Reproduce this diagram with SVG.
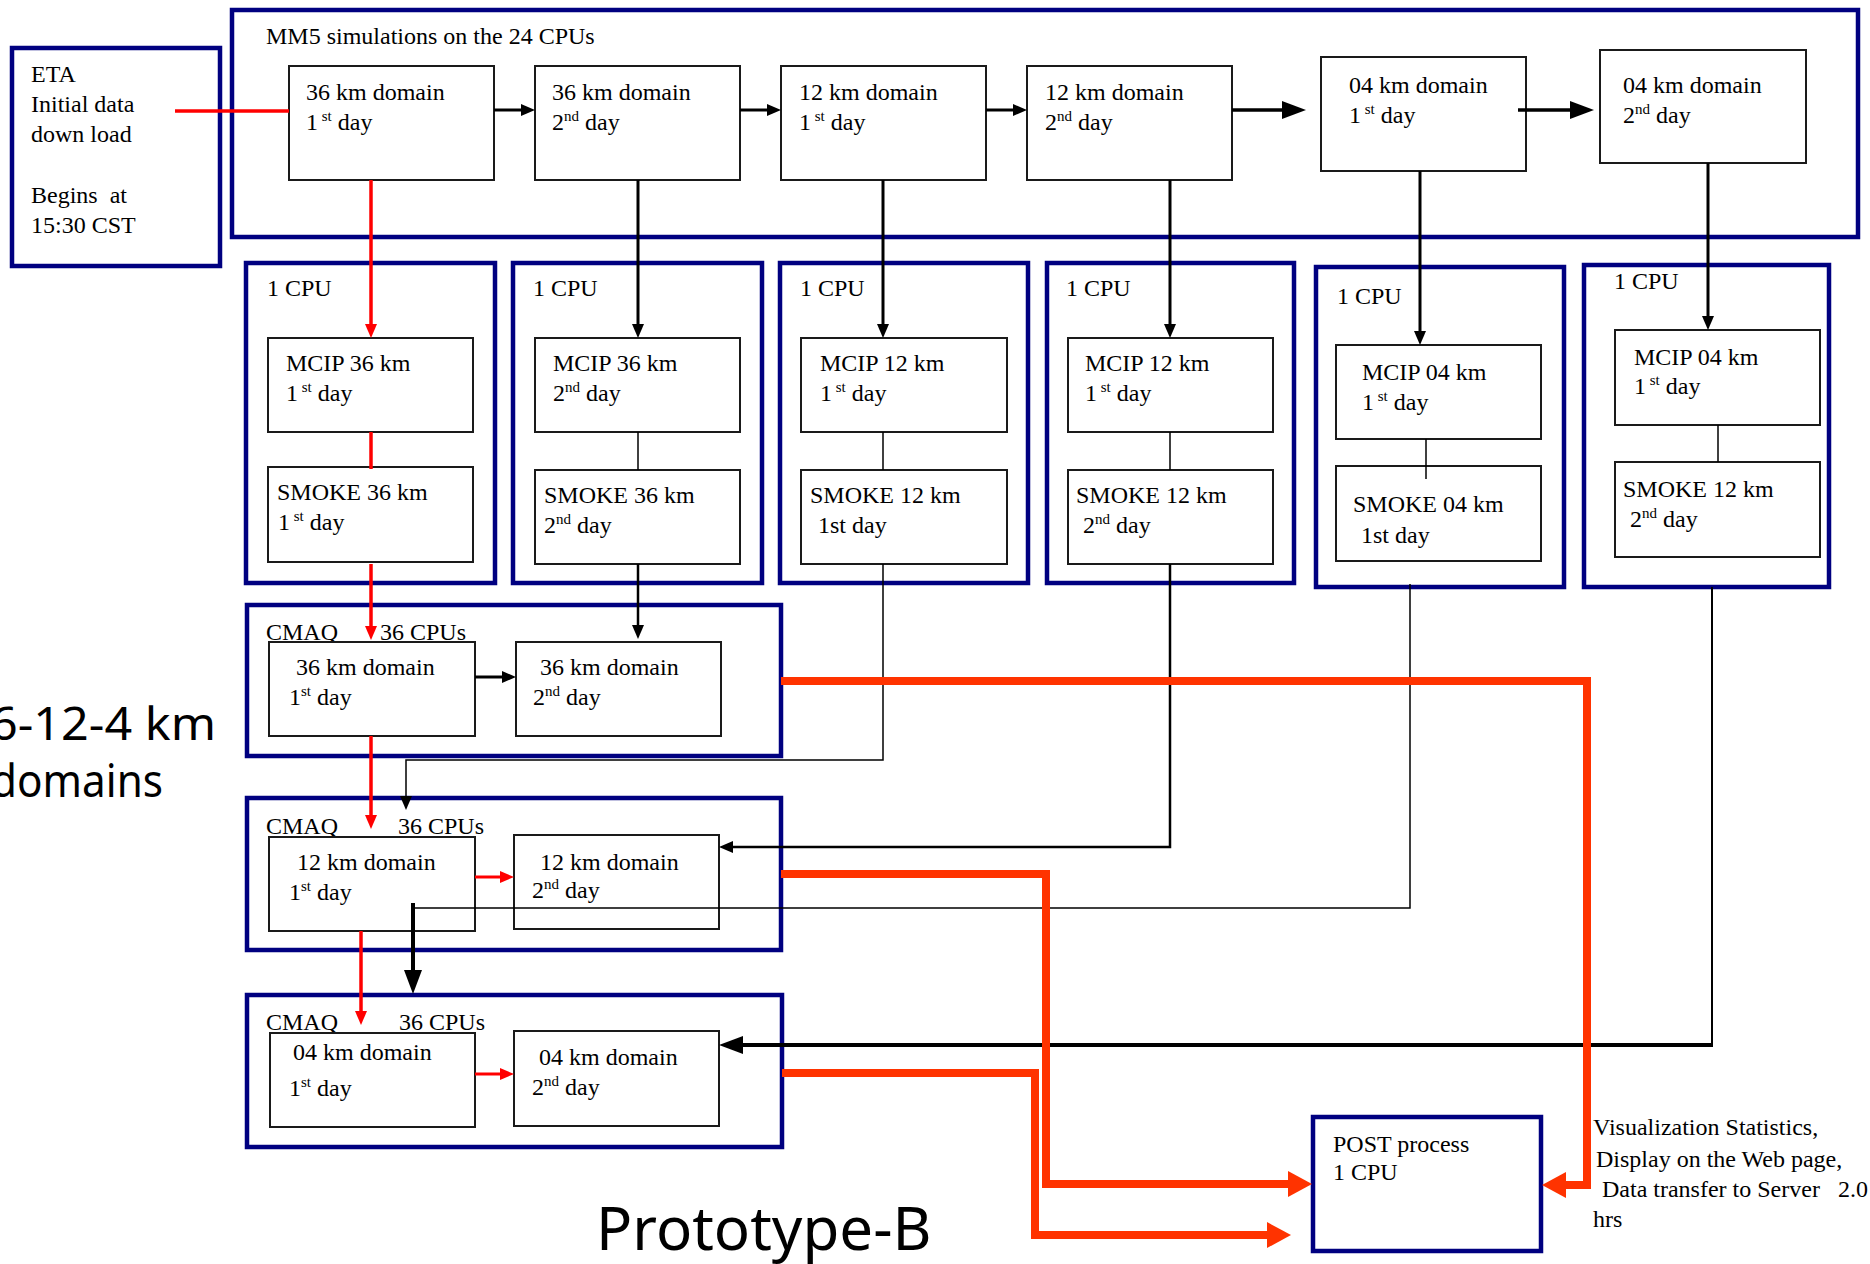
<svg xmlns="http://www.w3.org/2000/svg" width="1870" height="1264" viewBox="0 0 1870 1264">
<style>
.navy{fill:none;stroke:#000080;stroke-width:4.5}
.box{fill:#fff;stroke:#1a1a1a;stroke-width:2}
.t{font-family:"Liberation Serif","Times New Roman",serif;font-size:24px;fill:#000;white-space:pre}
.sup{font-size:15px}
.big{font-family:"Noto Sans","Open Sans",sans-serif;fill:#000}
.k{fill:none;stroke:#000}
.r{fill:none;stroke:#ff0000}
.o{fill:none;stroke:#ff3300;stroke-width:8;stroke-linejoin:miter}
</style>
<defs>
<marker id="mS" viewBox="0 0 14 12" refX="0" refY="6" markerWidth="14" markerHeight="12" markerUnits="userSpaceOnUse" orient="auto"><path d="M0,0 L14,6 L0,12 z" fill="#000"/></marker>
<marker id="mSR" viewBox="0 0 14 12" refX="0" refY="6" markerWidth="14" markerHeight="12" markerUnits="userSpaceOnUse" orient="auto"><path d="M0,0 L14,6 L0,12 z" fill="#ff0000"/></marker>
<marker id="mL" viewBox="0 0 24 18" refX="0" refY="9" markerWidth="24" markerHeight="18" markerUnits="userSpaceOnUse" orient="auto"><path d="M0,0 L24,9 L0,18 z" fill="#000"/></marker>
<marker id="mO" viewBox="0 0 24 26" refX="0" refY="13" markerWidth="24" markerHeight="26" markerUnits="userSpaceOnUse" orient="auto"><path d="M0,0 L24,13 L0,26 z" fill="#ff3300"/></marker>
</defs>
<rect width="1870" height="1264" fill="#fff"/>

<g id="eta">
<rect class="navy" x="12" y="48" width="208" height="218"/>
<text class="t" x="31" y="82">ETA</text>
<text class="t" x="31" y="112">Initial data</text>
<text class="t" x="31" y="142">down load</text>
<text class="t" x="31" y="203">Begins  at</text>
<text class="t" x="31" y="233">15:30 CST</text>
</g>

<g id="mm5">
<rect class="navy" x="232" y="10" width="1626" height="227"/>
<text class="t" x="266" y="44">MM5 simulations on the 24 CPUs</text>
</g>
<g id="mm5-36-1"><rect class="box" x="289" y="66" width="205" height="114"/>
<text class="t" x="306" y="100">36 km domain</text><text class="t" x="306" y="130">1<tspan class="sup" dy="-9"> st</tspan><tspan dy="9"> day</tspan></text></g>
<g id="mm5-36-2"><rect class="box" x="535" y="66" width="205" height="114"/>
<text class="t" x="552" y="100">36 km domain</text><text class="t" x="552" y="130">2<tspan class="sup" dy="-9">nd</tspan><tspan dy="9"> day</tspan></text></g>
<g id="mm5-12-1"><rect class="box" x="781" y="66" width="205" height="114"/>
<text class="t" x="799" y="100">12 km domain</text><text class="t" x="799" y="130">1<tspan class="sup" dy="-9"> st</tspan><tspan dy="9"> day</tspan></text></g>
<g id="mm5-12-2"><rect class="box" x="1027" y="66" width="205" height="114"/>
<text class="t" x="1045" y="100">12 km domain</text><text class="t" x="1045" y="130">2<tspan class="sup" dy="-9">nd</tspan><tspan dy="9"> day</tspan></text></g>
<g id="mm5-04-1"><rect class="box" x="1321" y="57" width="205" height="114"/>
<text class="t" x="1349" y="93">04 km domain</text><text class="t" x="1349" y="123">1<tspan class="sup" dy="-9"> st</tspan><tspan dy="9"> day</tspan></text></g>
<g id="mm5-04-2"><rect class="box" x="1600" y="50" width="206" height="113"/>
<text class="t" x="1623" y="93">04 km domain</text><text class="t" x="1623" y="123">2<tspan class="sup" dy="-9">nd</tspan><tspan dy="9"> day</tspan></text></g>

<g id="cpu1">
<rect class="navy" x="246" y="263" width="249" height="320"/>
<text class="t" x="267" y="296">1 CPU</text>
<rect class="box" x="268" y="338" width="205" height="94"/>
<text class="t" x="286" y="371">MCIP 36 km</text><text class="t" x="286" y="401">1<tspan class="sup" dy="-9"> st</tspan><tspan dy="9"> day</tspan></text>
<rect class="box" x="268" y="467" width="205" height="95"/>
<text class="t" x="277" y="500">SMOKE 36 km</text><text class="t" x="278" y="530">1<tspan class="sup" dy="-9"> st</tspan><tspan dy="9"> day</tspan></text>
</g>
<g id="cpu2">
<rect class="navy" x="513" y="263" width="249" height="320"/>
<text class="t" x="533" y="296">1 CPU</text>
<rect class="box" x="535" y="338" width="205" height="94"/>
<text class="t" x="553" y="371">MCIP 36 km</text><text class="t" x="553" y="401">2<tspan class="sup" dy="-9">nd</tspan><tspan dy="9"> day</tspan></text>
<rect class="box" x="535" y="470" width="205" height="94"/>
<text class="t" x="544" y="503">SMOKE 36 km</text><text class="t" x="544" y="533">2<tspan class="sup" dy="-9">nd</tspan><tspan dy="9"> day</tspan></text>
</g>
<g id="cpu3">
<rect class="navy" x="780" y="263" width="248" height="320"/>
<text class="t" x="800" y="296">1 CPU</text>
<rect class="box" x="801" y="338" width="206" height="94"/>
<text class="t" x="820" y="371">MCIP 12 km</text><text class="t" x="820" y="401">1<tspan class="sup" dy="-9"> st</tspan><tspan dy="9"> day</tspan></text>
<rect class="box" x="801" y="470" width="206" height="94"/>
<text class="t" x="810" y="503">SMOKE 12 km</text><text class="t" x="818" y="533">1st day</text>
</g>
<g id="cpu4">
<rect class="navy" x="1047" y="263" width="247" height="320"/>
<text class="t" x="1066" y="296">1 CPU</text>
<rect class="box" x="1068" y="338" width="205" height="94"/>
<text class="t" x="1085" y="371">MCIP 12 km</text><text class="t" x="1085" y="401">1<tspan class="sup" dy="-9"> st</tspan><tspan dy="9"> day</tspan></text>
<rect class="box" x="1068" y="470" width="205" height="94"/>
<text class="t" x="1076" y="503">SMOKE 12 km</text><text class="t" x="1083" y="533">2<tspan class="sup" dy="-9">nd</tspan><tspan dy="9"> day</tspan></text>
</g>
<g id="cpu5">
<rect class="navy" x="1316" y="267" width="248" height="320"/>
<text class="t" x="1337" y="304">1 CPU</text>
<rect class="box" x="1336" y="345" width="205" height="94"/>
<text class="t" x="1362" y="380">MCIP 04 km</text><text class="t" x="1362" y="410">1<tspan class="sup" dy="-9"> st</tspan><tspan dy="9"> day</tspan></text>
<rect class="box" x="1336" y="466" width="205" height="95"/>
<text class="t" x="1353" y="512">SMOKE 04 km</text><text class="t" x="1361" y="543">1st day</text>
</g>
<g id="cpu6">
<rect class="navy" x="1584" y="265" width="245" height="322"/>
<text class="t" x="1614" y="289">1 CPU</text>
<rect class="box" x="1615" y="330" width="205" height="95"/>
<text class="t" x="1634" y="365">MCIP 04 km</text><text class="t" x="1634" y="394">1<tspan class="sup" dy="-9"> st</tspan><tspan dy="9"> day</tspan></text>
<rect class="box" x="1615" y="462" width="205" height="95"/>
<text class="t" x="1623" y="497">SMOKE 12 km</text><text class="t" x="1630" y="527">2<tspan class="sup" dy="-9">nd</tspan><tspan dy="9"> day</tspan></text>
</g>

<g id="cmaq36">
<rect class="navy" x="247" y="605" width="534" height="151"/>
<text class="t" x="266" y="640">CMAQ</text><text class="t" x="380" y="640">36 CPUs</text>
<rect class="box" x="269" y="642" width="206" height="94"/>
<text class="t" x="296" y="675">36 km domain</text><text class="t" x="289" y="705">1<tspan class="sup" dy="-9">st</tspan><tspan dy="9"> day</tspan></text>
<rect class="box" x="516" y="642" width="205" height="94"/>
<text class="t" x="540" y="675">36 km domain</text><text class="t" x="533" y="705">2<tspan class="sup" dy="-9">nd</tspan><tspan dy="9"> day</tspan></text>
</g>
<g id="cmaq12">
<rect class="navy" x="247" y="798" width="534" height="152"/>
<text class="t" x="266" y="834">CMAQ</text><text class="t" x="398" y="834">36 CPUs</text>
<rect class="box" x="269" y="837" width="206" height="94"/>
<text class="t" x="297" y="870">12 km domain</text><text class="t" x="289" y="900">1<tspan class="sup" dy="-9">st</tspan><tspan dy="9"> day</tspan></text>
<rect class="box" x="514" y="835" width="205" height="94"/>
<text class="t" x="540" y="870">12 km domain</text><text class="t" x="532" y="898">2<tspan class="sup" dy="-9">nd</tspan><tspan dy="9"> day</tspan></text>
</g>
<g id="cmaq04">
<rect class="navy" x="247" y="995" width="535" height="152"/>
<text class="t" x="266" y="1030">CMAQ</text><text class="t" x="399" y="1030">36 CPUs</text>
<rect class="box" x="270" y="1033" width="205" height="94"/>
<text class="t" x="293" y="1060">04 km domain</text><text class="t" x="289" y="1096">1<tspan class="sup" dy="-9">st</tspan><tspan dy="9"> day</tspan></text>
<rect class="box" x="514" y="1031" width="205" height="95"/>
<text class="t" x="539" y="1065">04 km domain</text><text class="t" x="532" y="1095">2<tspan class="sup" dy="-9">nd</tspan><tspan dy="9"> day</tspan></text>
</g>

<g id="post">
<rect class="navy" x="1313" y="1117" width="228" height="134"/>
<text class="t" x="1333" y="1152">POST process</text>
<text class="t" x="1333" y="1180">1 CPU</text>
</g>
<g id="post-note">
<text class="t" x="1593" y="1135">Visualization Statistics,</text>
<text class="t" x="1596" y="1167">Display on the Web page,</text>
<text class="t" x="1596" y="1197"> Data transfer to Server   2.0</text>
<text class="t" x="1593" y="1227">hrs</text>
</g>

<g id="labels">
<text class="big" x="-10" y="740" font-size="46" textLength="226" lengthAdjust="spacingAndGlyphs">6-12-4 km</text>
<text class="big" x="-9" y="797" font-size="46" textLength="172" lengthAdjust="spacingAndGlyphs">domains</text>
<text class="big" x="596" y="1250" font-size="60">Prototype-B</text>
</g>

<g id="connectors">
<path class="r" stroke-width="3.5" d="M175,111 H289"/>
<path class="k" stroke-width="3" d="M494,110 H521" marker-end="url(#mS)"/>
<path class="k" stroke-width="3" d="M740,110 H767" marker-end="url(#mS)"/>
<path class="k" stroke-width="3" d="M986,110 H1013" marker-end="url(#mS)"/>
<path class="k" stroke-width="3.5" d="M1232,110 H1282" marker-end="url(#mL)"/>
<path class="k" stroke-width="3.5" d="M1518,110 H1570" marker-end="url(#mL)"/>

<path class="r" stroke-width="3.5" d="M371,180 V324" marker-end="url(#mSR)"/>
<path class="k" stroke-width="3" d="M638,180 V324" marker-end="url(#mS)"/>
<path class="k" stroke-width="3" d="M883,180 V324" marker-end="url(#mS)"/>
<path class="k" stroke-width="3" d="M1170,180 V324" marker-end="url(#mS)"/>
<path class="k" stroke-width="3" d="M1420,171 V331" marker-end="url(#mS)"/>
<path class="k" stroke-width="3" d="M1708,163 V316" marker-end="url(#mS)"/>

<path class="r" stroke-width="3.5" d="M371,432 V469"/>
<path class="k" stroke-width="1.5" d="M638,432 V470"/>
<path class="k" stroke-width="1.5" d="M883,432 V470"/>
<path class="k" stroke-width="1.5" d="M1170,432 V470"/>
<path class="k" stroke-width="1.5" d="M1426,439 V479"/>
<path class="k" stroke-width="1.5" d="M1718,425 V462"/>

<path class="r" stroke-width="3.5" d="M371,564 V626" marker-end="url(#mSR)"/>
<path class="k" stroke-width="2.5" d="M638,564 V625" marker-end="url(#mS)"/>
<path class="k" stroke-width="3" d="M475,677 H502" marker-end="url(#mS)"/>
<path class="r" stroke-width="3.5" d="M371,736 V815" marker-end="url(#mSR)"/>
<path class="k" stroke-width="1.5" d="M883,564 V760 H406 V796" marker-end="url(#mS)"/>

<path class="k" stroke-width="2.5" d="M1170,564 V847 H733" marker-end="url(#mS)"/>
<path class="r" stroke-width="3" d="M475,877 H500" marker-end="url(#mSR)"/>
<path class="r" stroke-width="3.5" d="M361,931 V1011" marker-end="url(#mSR)"/>
<path class="k" stroke-width="1.5" d="M1410,584 V908 H413"/>
<path class="k" stroke-width="4" d="M413,903 V970" marker-end="url(#mL)"/>

<path class="r" stroke-width="3" d="M475,1074 H500" marker-end="url(#mSR)"/>
<path class="k" stroke-width="2" d="M1712,587 V1045"/>
<path class="k" stroke-width="4" d="M1713,1045 H743" marker-end="url(#mL)"/>

<path class="o" d="M781,681 H1587 V1185 H1566" marker-end="url(#mO)"/>
<path class="o" d="M781,874 H1046 V1184 H1288" marker-end="url(#mO)"/>
<path class="o" d="M782,1073 H1035 V1235 H1267" marker-end="url(#mO)"/>
</g>
</svg>
